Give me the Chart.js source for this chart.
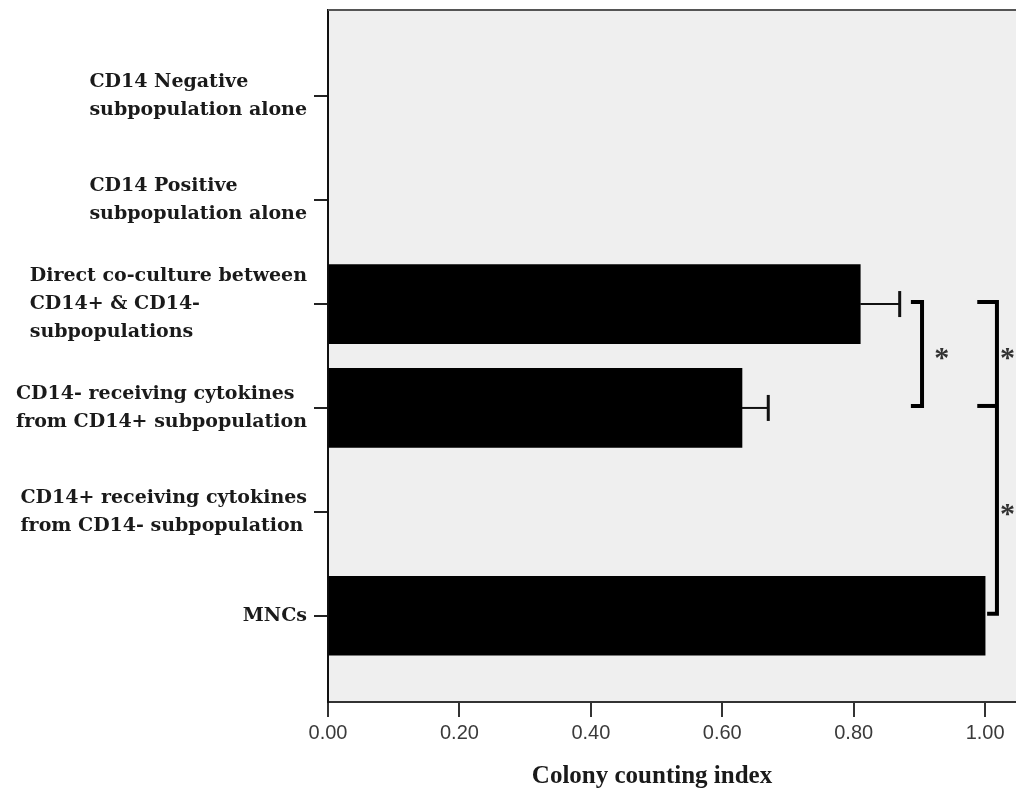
<!DOCTYPE html>
<html>
<head>
<meta charset="utf-8">
<script src="https://cdn.jsdelivr.net/npm/chart.js@4.4.1/dist/chart.umd.min.js"></script>
<style>
  html, body { margin: 0; padding: 0; background: #ffffff; }
  #wrap { width: 1016px; height: 793px; }
</style>
</head>
<body>
<div id="wrap"><canvas id="chart" width="1016" height="793"></canvas></div>
<script>
// Group labels, top to bottom (each entry is one label, split into lines)
const categories = [
  ['CD14 Negative', 'subpopulation alone'],
  ['CD14 Positive', 'subpopulation alone'],
  ['Direct co-culture between', 'CD14+ & CD14-', 'subpopulations'],
  ['CD14- receiving cytokines', 'from CD14+ subpopulation'],
  ['CD14+ receiving cytokines', 'from CD14- subpopulation'],
  ['MNCs']
];
// Mean colony counting index per group (empty groups have no bar)
const colonyIndex = [null, null, 0.81, 0.63, null, 1.00];
// Upper error (one side) per group
const colonyError = [null, null, 0.06, 0.04, null, null];
// X axis ticks
const xTickValues = [0, 0.2, 0.4, 0.6, 0.8, 1.0];
const xTitle = 'Colony counting index';
// Significance groups: rows joined by one bracket, a star between each pair
const comparisons = [[2, 3], [2, 3, 5]];
const starMark = '*';

// Bracket geometry (in x-axis units), one per comparison
const bracketStyle = [
  { line: 0.904, arm: 0.884, star: 0.934 },
  { line: 1.018, arm: 0.985, star: 1.034 }
];

const rows = categories.map((_, i) => i);
const barData = rows.map(i => ({ x: colonyIndex[i], y: i }));

const overlay = {
  id: 'overlay',
  beforeDraw(chart) {
    const { ctx, chartArea: a } = chart;
    ctx.save();
    ctx.fillStyle = '#ffffff';
    ctx.fillRect(0, 0, chart.width, chart.height);
    ctx.fillStyle = '#efefef';
    ctx.fillRect(a.left, a.top, a.right - a.left, a.bottom - a.top);
    ctx.restore();
  },
  afterDatasetsDraw(chart) {
    const { ctx } = chart;
    const xs = chart.scales.x, ys = chart.scales.y;
    ctx.save();
    // error bars
    rows.forEach(i => {
      if (colonyIndex[i] == null || colonyError[i] == null) return;
      const y = ys.getPixelForValue(i);
      const x0 = xs.getPixelForValue(colonyIndex[i]);
      const x1 = xs.getPixelForValue(colonyIndex[i] + colonyError[i]);
      ctx.strokeStyle = '#111';
      ctx.lineWidth = 2;
      ctx.beginPath(); ctx.moveTo(x0, y); ctx.lineTo(x1, y); ctx.stroke();
      ctx.lineWidth = 3;
      ctx.beginPath(); ctx.moveTo(x1, y - 13); ctx.lineTo(x1, y + 13); ctx.stroke();
    });
    // significance brackets
    comparisons.forEach((grp, k) => {
      const st = bracketStyle[k];
      const xv = xs.getPixelForValue(st.line);
      const yy = grp.map(i => ys.getPixelForValue(i) - 2);
      const armX = grp.map(i => {
        const end = colonyIndex[i] != null ? colonyIndex[i] + (colonyError[i] || 0) : 0;
        return xs.getPixelForValue(Math.max(st.arm, end)) + 2;
      });
      ctx.strokeStyle = '#000';
      ctx.lineWidth = 4;
      ctx.lineJoin = 'miter';
      ctx.beginPath();
      ctx.moveTo(armX[0], yy[0]);
      ctx.lineTo(xv, yy[0]);
      ctx.lineTo(xv, yy[yy.length - 1]);
      ctx.lineTo(armX[armX.length - 1], yy[yy.length - 1]);
      ctx.stroke();
      for (let j = 1; j < grp.length - 1; j++) {
        ctx.beginPath(); ctx.moveTo(armX[j], yy[j]); ctx.lineTo(xv, yy[j]); ctx.stroke();
      }
      // stars between consecutive rows
      ctx.fillStyle = '#333';
      ctx.font = 'bold 30px "Liberation Serif"';
      ctx.textAlign = 'center';
      ctx.textBaseline = 'alphabetic';
      const m = ctx.measureText(starMark);
      const sx = xs.getPixelForValue(st.star);
      for (let j = 0; j < grp.length - 1; j++) {
        const yc = (yy[j] + yy[j + 1]) / 2;
        ctx.fillText(starMark, sx, yc + (m.actualBoundingBoxAscent - m.actualBoundingBoxDescent) / 2);
      }
    });
    ctx.restore();
  },
  afterDraw(chart) {
    const { ctx, chartArea: a } = chart;
    const xs = chart.scales.x, ys = chart.scales.y;
    ctx.save();
    // top frame line
    ctx.strokeStyle = '#555';
    ctx.lineWidth = 2;
    ctx.beginPath(); ctx.moveTo(a.left, a.top); ctx.lineTo(a.right, a.top); ctx.stroke();
    // group labels: lines left-aligned, block ending just before the tick marks
    ctx.font = 'bold 19px "DejaVu Serif"';
    ctx.fillStyle = '#1a1a1a';
    ctx.textAlign = 'left';
    ctx.textBaseline = 'middle';
    const lineH = 28;
    rows.forEach(i => {
      const lines = categories[i];
      const w = Math.max(...lines.map(t => ctx.measureText(t).width));
      const left = ys.right - 21 - w;
      const yc = ys.getPixelForValue(i);
      lines.forEach((t, k) => {
        ctx.fillText(t, left, yc + (k - (lines.length - 1) / 2) * lineH);
      });
    });
    // axis title
    ctx.font = 'bold 25px "Liberation Serif"';
    ctx.textAlign = 'center';
    ctx.fillText(xTitle, (a.left + a.right) / 2 - 20, 777);
    ctx.restore();
  }
};

new Chart(document.getElementById('chart'), {
  type: 'bar',
  data: {
    datasets: [{
      data: barData,
      backgroundColor: '#000000',
      borderWidth: 0,
      barThickness: 79
    }]
  },
  options: {
    indexAxis: 'y',
    responsive: false,
    animation: false,
    devicePixelRatio: 1,
    layout: { padding: { top: 10, right: 0, bottom: 0, left: 0 } },
    plugins: { legend: { display: false }, tooltip: { enabled: false } },
    scales: {
      x: {
        type: 'linear',
        min: 0,
        max: 1.047,
        afterBuildTicks: s => { s.ticks = xTickValues.map(v => ({ value: v })); },
        afterFit: s => { s.height = 91; },
        grid: { drawOnChartArea: false, drawTicks: true, tickLength: 15, color: '#333', lineWidth: 2 },
        border: { display: true, color: '#333', width: 2 },
        ticks: {
          padding: 4,
          color: '#3a3a3a',
          font: { family: '"Liberation Sans"', size: 20 },
          maxRotation: 0,
          callback: v => Number(v).toFixed(2)
        }
      },
      y: {
        type: 'linear',
        reverse: true,
        offset: false,
        min: -0.83,
        max: 5.83,
        afterBuildTicks: s => { s.ticks = rows.map(v => ({ value: v })); },
        afterFit: s => { s.width = 328; },
        grid: { offset: false, drawOnChartArea: false, drawTicks: true, tickLength: 14, color: '#222', lineWidth: 2 },
        border: { display: true, color: '#111', width: 2 },
        ticks: { display: false }
      }
    }
  },
  plugins: [overlay]
});
</script>
</body>
</html>
